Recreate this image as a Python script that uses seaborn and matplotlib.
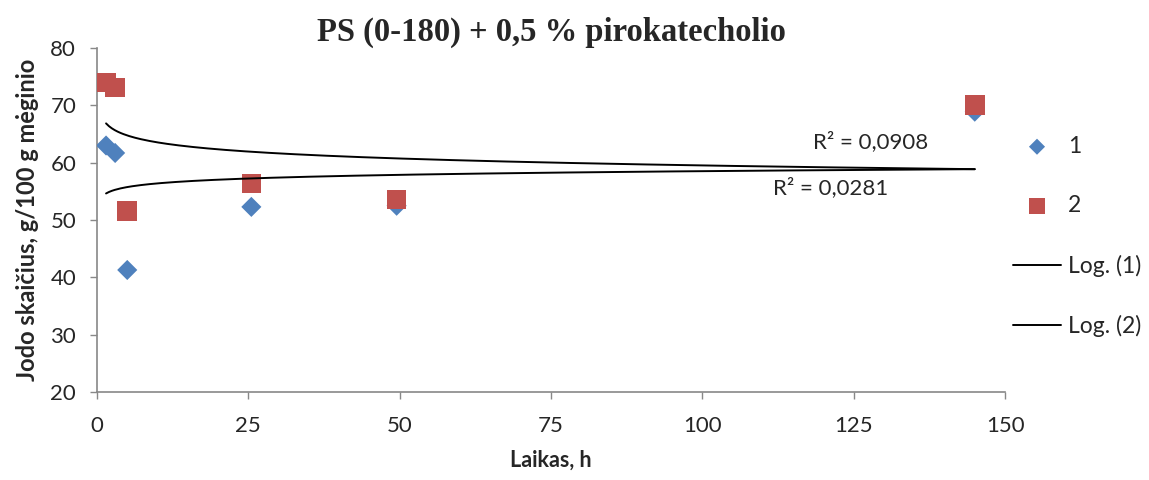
import numpy as np
import pandas as pd
import matplotlib
matplotlib.use("Agg")
import matplotlib.pyplot as plt
import seaborn as sns

# Data
time_h = [1.5, 3, 5, 25.5, 49.5, 145]
series1 = [63.0, 61.7, 41.3, 52.3, 52.5, 68.9]
series2 = [74.0, 73.1, 51.6, 56.4, 53.6, 70.1]
series_names = ["1", "2"]
trend_names = ["Log. (1)", "Log. (2)"]
r2_labels = ["R² = 0,0281", "R² = 0,0908"]
x_ticks = [0, 25, 50, 75, 100, 125, 150]
y_ticks = [20, 30, 40, 50, 60, 70, 80]
title = "PS (0-180) + 0,5 % pirokatecholio"
xlabel = "Laikas, h"
ylabel = "Jodo skaičius, g/100 g mėginio"

sns.set_theme(style="white")
plt.rcParams["font.family"] = ["Lato", "DejaVu Sans"]

fig = plt.figure(figsize=(11.49, 4.8), dpi=100)
ax = fig.add_axes([0.0844, 0.183, 0.7903, 0.717])

blue = "#4F81BD"
red = "#C0504D"

def log_fit(x, y):
    lx = np.log(np.asarray(x, float))
    b, a = np.polyfit(lx, np.asarray(y, float), 1)
    xs = np.linspace(min(x), max(x), 300)
    return xs, b * np.log(xs) + a

sns.scatterplot(x=time_h, y=series1, marker="D", s=105, color=blue,
                edgecolor="none", ax=ax, label=series_names[0], zorder=3)
sns.scatterplot(x=time_h, y=series2, marker="s", s=200, color=red,
                edgecolor="none", ax=ax, label=series_names[1], zorder=4)

xs1, ys1 = log_fit(time_h, series1)
xs2, ys2 = log_fit(time_h, series2)
sns.lineplot(x=xs1, y=ys1, color="black", lw=1.4, ax=ax, label=trend_names[0], zorder=5)
sns.lineplot(x=xs2, y=ys2, color="black", lw=1.4, ax=ax, label=trend_names[1], zorder=5)

ax.text(121.2, 55.7, r2_labels[0], fontsize=16, ha="center", va="center")
ax.text(127.8, 63.6, r2_labels[1], fontsize=16, ha="center", va="center")

ax.set_xlim(0, 150)
ax.set_ylim(20, 80)
ax.set_xticks(x_ticks)
ax.set_yticks(y_ticks)
ax.tick_params(axis="both", labelsize=16, direction="out", length=5,
               color="#888888", width=1, bottom=True, left=True)
ax.tick_params(axis="x", pad=12)
ax.tick_params(axis="y", pad=10)
for side in ["top", "right"]:
    ax.spines[side].set_visible(False)
for side in ["left", "bottom"]:
    ax.spines[side].set_color("#888888")
    ax.spines[side].set_linewidth(1.2)

ax.set_xlabel(xlabel, fontsize=15.5, fontweight="bold", labelpad=10)
ax.set_ylabel(ylabel, fontsize=17, fontweight="bold", labelpad=8)
ax.set_title(title, fontsize=23.5, fontweight="bold", family="Liberation Serif", pad=5)

handles, labels = ax.get_legend_handles_labels()
ax.legend(handles, labels, loc="upper left", bbox_to_anchor=(0.986, 0.805),
          frameon=False, fontsize=16.5, labelspacing=1.68, handlelength=2.1,
          handletextpad=0.3, markerscale=0.8)

fig.savefig("out.png", dpi=100)
